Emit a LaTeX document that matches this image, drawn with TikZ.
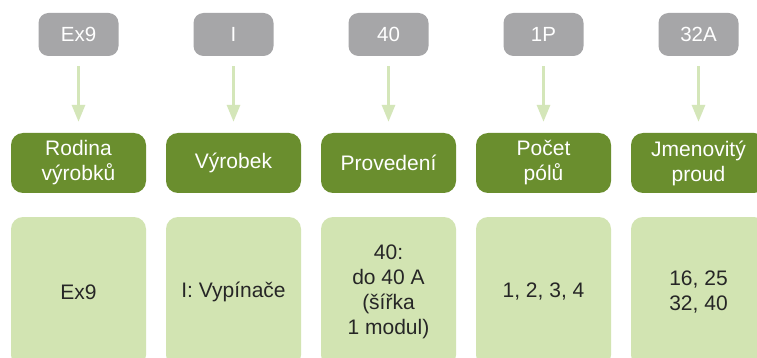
\documentclass[tikz,border=0pt]{standalone}
\usepackage{fontspec}
\setmainfont{Liberation Sans}
\usetikzlibrary{arrows.meta}
\definecolor{codegray}{HTML}{A6A6A8}
\definecolor{darkgreen}{HTML}{6A8E2E}
\definecolor{lightgreen}{HTML}{D2E4B2}
\definecolor{arrowgreen}{HTML}{D4E6B9}
\definecolor{bodytext}{HTML}{262626}
\tikzset{
  codebox/.style={fill=codegray, rounded corners=10pt, minimum width=80pt, minimum height=43pt,
    inner sep=0pt, text=white, font=\fontsize{20.5}{24}\selectfont},
  headbox/.style={fill=darkgreen, rounded corners=12pt, minimum width=135pt, minimum height=60pt,
    inner sep=0pt, text=white, align=center, font=\fontsize{21}{25}\selectfont},
  valbox/.style={fill=lightgreen, rounded corners=12pt, minimum width=135pt, minimum height=150pt,
    inner sep=0pt, text=bodytext, align=center, font=\fontsize{21}{25}\selectfont},
  flowarrow/.style={draw=arrowgreen, line width=3pt, -{Triangle[width=13pt,length=17pt]},
    shorten <=10pt, shorten >=11pt}
}
\begin{document}
\begin{tikzpicture}[x=1pt,y=-1pt]
\useasboundingbox (0,0) rectangle (757,358);
\clip (0,0) rectangle (757,358);
\fill[white] (0,0) rectangle (757,358);
\foreach \i/\code/\head/\val in {
  1/Ex9/{Rodina\\výrobků}/Ex9,
  2/I/Výrobek/{I: Vypínače},
  3/40/Provedení/{40:\\do 40 A\\(šířka\\1 modul)},
  4/1P/{Počet\\pólů}/{1, 2, 3, 4},
  5/32A/{Jmenovitý\\proud}/{16, 25\\32, 40}} {
  \pgfmathsetmacro{\cx}{78.5+155*(\i-1)}
  \node[codebox] (g\i) at (\cx,34.5) {\code};
  \node[headbox] (n\i) at (\cx,163) {\head};
  \node[valbox] (b\i) at (\cx,292) {\val};
  \draw[flowarrow] (g\i) -- (n\i);
}
\end{tikzpicture}
\end{document}
